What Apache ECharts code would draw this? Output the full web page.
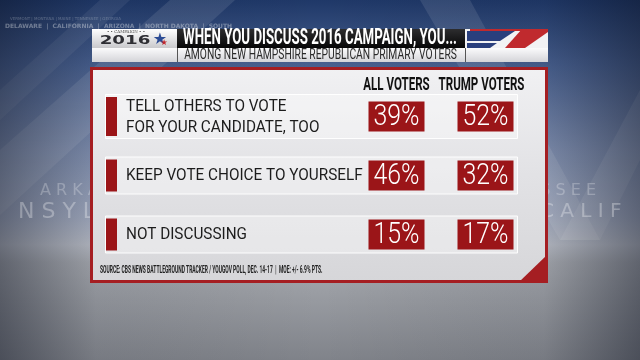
<!DOCTYPE html>
<html><head><meta charset="utf-8">
<script src="https://cdn.jsdelivr.net/npm/echarts@6.0.0/dist/echarts.min.js"></script>
<style>html,body{margin:0;padding:0;background:#000;}#c{width:640px;height:360px;}</style>
</head><body><div id="c"></div>
<script>
const titleText = 'WHEN YOU DISCUSS 2016 CAMPAIGN, YOU...';
const subtitleText = 'AMONG NEW HAMPSHIRE REPUBLICAN PRIMARY VOTERS';
const groups = ['ALL VOTERS', 'TRUMP VOTERS'];
const responses = ['TELL OTHERS TO VOTE\nFOR YOUR CANDIDATE, TOO', 'KEEP VOTE CHOICE TO YOURSELF', 'NOT DISCUSSING'];
const allVoters = [39, 46, 15];
const trumpVoters = [52, 32, 17];
const sourceText = 'SOURCE: CBS NEWS BATTLEGROUND TRACKER / YOUGOV POLL, DEC. 14-17  |  MOE: +/- 6.9% PTS.';
const statesTop = 'DELAWARE  |  CALIFORNIA  |  ARIZONA  |  NORTH DAKOTA  |  SOUTH';
const statesTop2 = 'VERMONT | MONTANA | MAINE | TENNESSEE | GEORGIA';

const F = "Roboto, 'DejaVu Sans', sans-serif";
const RED = '#9b1518';

const chart = echarts.init(document.getElementById('c'), null, {renderer: 'canvas'});

const graphics = [
  // background
  {type: 'rect', z: -20, shape: {x: 0, y: 0, width: 640, height: 360}, style: {fill: {type: 'linear', x: 0, y: 0, x2: 0, y2: 1, colorStops: [
    {offset: 0, color: '#1f3868'}, {offset: 0.18, color: '#48608f'}, {offset: 0.42, color: '#8190b0'},
    {offset: 0.6, color: '#a2abc0'}, {offset: 0.68, color: '#b9bdc6'}, {offset: 0.73, color: '#a6a9af'},
    {offset: 0.82, color: '#999ca2'}, {offset: 1, color: '#80838a'}]}}},
  {type: 'polygon', z: -19, shape: {points: [[0, 150], [0, 215], [235, 0], [170, 0]]}, style: {fill: 'rgba(255,255,255,0.10)'}},
  {type: 'polygon', z: -19, shape: {points: [[0, 90], [0, 120], [130, 0], [100, 0]]}, style: {fill: 'rgba(255,255,255,0.07)'}},
  {type: 'polygon', z: -19, shape: {points: [[420, 0], [470, 0], [600, 240], [560, 240]]}, style: {fill: 'rgba(255,255,255,0.10)'}},
  {type: 'polygon', z: -19, shape: {points: [[560, 240], [600, 240], [640, 160], [640, 90]]}, style: {fill: 'rgba(255,255,255,0.10)'}},
  {type: 'rect', z: -18, shape: {x: 0, y: 0, width: 640, height: 360}, style: {fill: {type: 'linear', x: 0, y: 0, x2: 1, y2: 0, colorStops: [
    {offset: 0, color: 'rgba(10,15,30,0.45)'}, {offset: 0.15, color: 'rgba(10,15,30,0.08)'}, {offset: 0.5, color: 'rgba(0,0,0,0)'},
    {offset: 0.85, color: 'rgba(10,15,30,0.08)'}, {offset: 1, color: 'rgba(10,15,30,0.45)'}]}}},
  {type: 'text', z: -17, style: {x: 10, y: 17, text: statesTop2, fill: 'rgba(255,255,255,0.25)', font: "4px 'DejaVu Sans'"}},
  {type: 'text', z: -17, style: {x: 5, y: 23, text: statesTop, fill: 'rgba(255,255,255,0.35)', font: "bold 6px 'DejaVu Sans'"}},
  {type: 'text', z: -17, style: {x: 40, y: 191, text: 'A R K A N S A S', fill: 'rgba(255,255,255,0.25)', font: "16px 'DejaVu Sans'", verticalAlign: 'middle'}},
  {type: 'text', z: -17, style: {x: 18, y: 212, text: 'N S Y L V A N I A', fill: 'rgba(255,255,255,0.3)', font: "22px 'DejaVu Sans'", verticalAlign: 'middle'}},
  {type: 'text', z: -17, style: {x: 461, y: 191, text: 'T E N N E S S E E', fill: 'rgba(255,255,255,0.25)', font: "16px 'DejaVu Sans'", verticalAlign: 'middle'}},
  {type: 'text', z: -17, style: {x: 540, y: 212, text: 'C A L I F', fill: 'rgba(255,255,255,0.3)', font: "20px 'DejaVu Sans'", verticalAlign: 'middle'}},
  // header
  {type: 'rect', z: -10, shape: {x: 92, y: 29, width: 85, height: 19}, style: {fill: {type: 'linear', x: 0, y: 0, x2: 0, y2: 1, colorStops: [{offset: 0, color: '#ffffff'}, {offset: 1, color: '#c9c9cc'}]}}},
  {type: 'text', z: -9, style: {x: 126, y: 32, text: '• • CAMPAIGN • •', fill: '#444', font: "4px 'DejaVu Serif'", align: 'center', verticalAlign: 'middle'}},
  {type: 'text', z: -9, x: 125, y: 41, scaleX: 1.4, style: {x: 0, y: 0, text: '2016', fill: '#2e2e33', font: "bold 13px 'DejaVu Sans'", align: 'center', verticalAlign: 'middle'}},
  {type: 'text', z: -9, style: {x: 160, y: 40, text: '★', fill: '#2b4b94', font: "16px 'DejaVu Sans'", align: 'center', verticalAlign: 'middle'}},
  {type: 'text', z: -8, style: {x: 164, y: 43, text: '★', fill: '#c0262c', font: "8px 'DejaVu Sans'", align: 'center', verticalAlign: 'middle'}},
  {type: 'rect', z: -10, shape: {x: 177, y: 29, width: 288, height: 19}, style: {fill: {type: 'linear', x: 0, y: 0, x2: 0, y2: 1, colorStops: [{offset: 0, color: '#2d2d2f'}, {offset: 1, color: '#060606'}]}}},
  {type: 'text', z: -9, x: 320, y: 38.5, scaleX: 0.59, style: {x: 0, y: 0, text: titleText, fill: '#ffffff', font: "bold 22.5px " + F, align: 'center', verticalAlign: 'middle'}},
  {type: 'rect', z: -10, shape: {x: 465, y: 29, width: 83, height: 19}, style: {fill: '#f2f2f4'}},
  {type: 'polygon', z: -9, shape: {points: [[467, 31], [515, 31], [500, 41], [467, 41]]}, style: {fill: '#2a3f7d'}},
  {type: 'polygon', z: -9, shape: {points: [[467, 43], [497, 43], [490, 48], [467, 48]]}, style: {fill: '#2a3f7d'}},
  {type: 'polygon', z: -9, shape: {points: [[470, 29], [548, 29], [548, 31], [470, 31]]}, style: {fill: '#c02a2e'}},
  {type: 'polygon', z: -9, shape: {points: [[522, 29], [548, 29], [548, 32], [525, 48], [505, 48]]}, style: {fill: '#c02a2e'}},
  {type: 'rect', z: -10, shape: {x: 92, y: 48, width: 456, height: 14}, style: {fill: {type: 'linear', x: 0, y: 0, x2: 0, y2: 1, colorStops: [{offset: 0, color: '#fbfbfc'}, {offset: 1, color: '#d4d4d8'}]}}},
  {type: 'line', z: -9, shape: {x1: 177.5, y1: 48, x2: 177.5, y2: 62}, style: {stroke: '#555', lineWidth: 1}},
  {type: 'line', z: -9, shape: {x1: 465.5, y1: 48, x2: 465.5, y2: 62}, style: {stroke: '#555', lineWidth: 1}},
  {type: 'text', z: -9, x: 320.5, y: 55.5, scaleX: 0.735, style: {x: 0, y: 0, text: subtitleText, fill: '#2a2a2a', font: "14px " + F, align: 'center', verticalAlign: 'middle'}},
  // panel
  {type: 'rect', z: -10, shape: {x: 91.5, y: 68.5, width: 455, height: 213}, style: {fill: {type: 'linear', x: 0, y: 0, x2: 0, y2: 1, colorStops: [{offset: 0, color: '#f1f1f3'}, {offset: 0.5, color: '#e2e2e5'}, {offset: 1, color: '#d6d6d9'}]}, stroke: '#a51e22', lineWidth: 3}},
  {type: 'polygon', z: -9, shape: {points: [[519, 282], [547, 255], [547, 282]]}, style: {fill: '#a51e22'}},
  {type: 'text', z: -9, x: 100, y: 270, scaleX: 0.45, style: {x: 0, y: 0, text: sourceText, fill: '#222', font: "bold 11px " + F, verticalAlign: 'middle'}}
];

function boxSeries(idx, values) {
  return {
    name: groups[idx], type: 'custom', z: 3, silent: true, clip: false,
    data: values.map((v, i) => [idx, i, v]),
    renderItem: function (params, api) {
      const p = api.coord([api.value(0), api.value(1)]);
      return {type: 'group', children: [
        {type: 'rect', shape: {x: p[0] - 28, y: p[1] - 15, width: 56, height: 30}, style: {fill: RED}},
        {type: 'text', x: p[0], y: p[1] + 1, scaleX: 0.83,
         style: {x: 0, y: 0, text: api.value(2) + '%', fill: '#fff', font: '300 30px ' + F, align: 'center', verticalAlign: 'middle'}}
      ]};
    }
  };
}

const option = {
  animation: false,
  graphic: graphics,
  grid: {left: 352, top: 87, width: 178, height: 177},
  xAxis: {
    type: 'category', data: groups, position: 'top',
    axisLine: {show: false}, axisTick: {show: false}, splitLine: {show: false}, axisLabel: {show: false}
  },
  yAxis: {
    type: 'category', data: responses, inverse: true,
    axisLine: {show: false}, axisTick: {show: false}, splitLine: {show: false}, axisLabel: {show: false}
  },
  series: [
    {
      name: 'rows', type: 'custom', z: 1, silent: true, clip: false,
      data: responses.map((r, i) => [0, i]),
      renderItem: function (params, api) {
        const cs = params.coordSys;
        const yc = api.coord([0, api.value(1)])[1];
        const label = responses[params.dataIndex];
        const h = label.indexOf('\n') >= 0 ? 39 : 32;
        return {type: 'group', children: [
          {type: 'rect', shape: {x: cs.x - 246.5, y: yc - h / 2 - 2.5, width: cs.width + 246 - 12, height: h + 5},
           style: {fill: 'rgba(255,255,255,0.35)', stroke: 'rgba(255,255,255,0.95)', lineWidth: 1}},
          {type: 'rect', shape: {x: cs.x - 246, y: yc - h / 2, width: 11, height: h}, style: {fill: RED}},
          {type: 'text', x: cs.x - 226, y: yc + 0.5, scaleX: 0.9,
           style: {x: 0, y: 0, text: label, fill: '#1c1c1c', font: '17px ' + F, lineHeight: 21, verticalAlign: 'middle'}}
        ]};
      }
    },
    {
      name: 'headers', type: 'custom', z: 2, silent: true, clip: false,
      data: groups.map((g, i) => [i, 0]),
      renderItem: function (params, api) {
        const cs = params.coordSys;
        const x = api.coord([api.value(0), 0])[0] - 4 * api.value(0);
        return {type: 'text', x: x, y: cs.y - 1, scaleX: 0.66,
          style: {x: 0, y: 0, text: groups[params.dataIndex], fill: '#111', font: 'bold 17.5px ' + F, align: 'center', verticalAlign: 'middle'}};
      }
    },
    boxSeries(0, allVoters),
    boxSeries(1, trumpVoters)
  ]
};
chart.setOption(option);
</script>
</body></html>
